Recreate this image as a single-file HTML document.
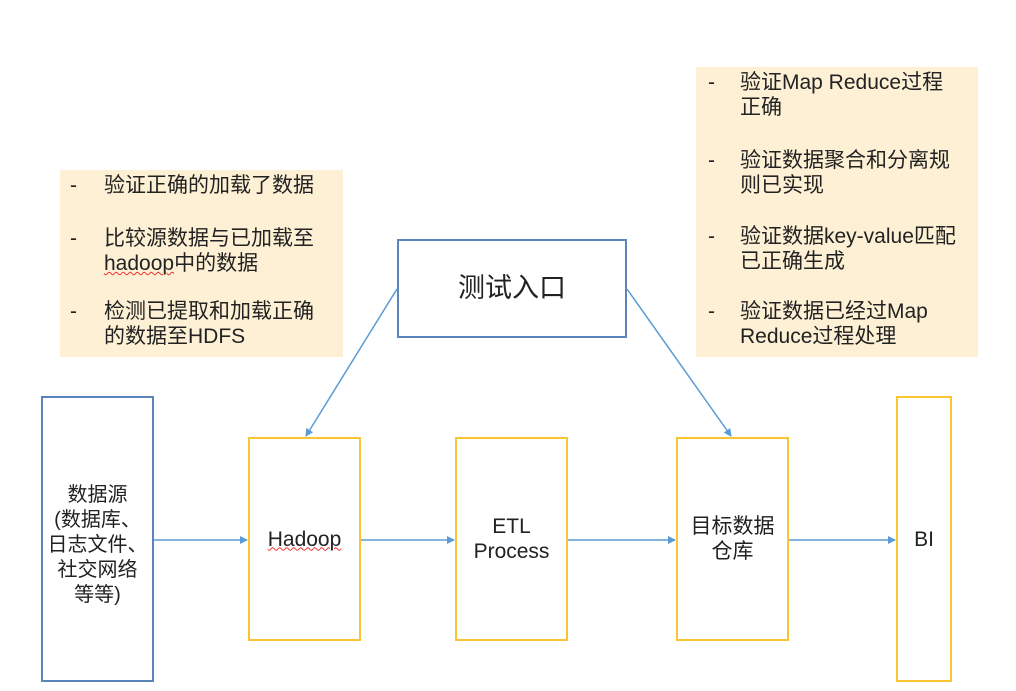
<!DOCTYPE html>
<html><head><meta charset="utf-8"><style>
body{margin:0;width:1016px;height:691px;background:#fff;position:relative;overflow:hidden;font-family:"Liberation Sans","Noto Sans CJK SC",sans-serif;color:#222}
.a{position:absolute}
.note{position:absolute;background:#fdf0d5}
.t{position:absolute;font-size:21px;line-height:25px;white-space:nowrap}
.box{position:absolute;box-sizing:border-box;display:flex;align-items:center;justify-content:center;text-align:center;font-size:21px;line-height:25px}
.y{border:2px solid #fbc531}
.b{border:2px solid #5b84b8}
</style></head><body>
<div class="note" style="left:60px;top:170px;width:283px;height:187px"></div>
<div class="note" style="left:696px;top:67px;width:282px;height:290px"></div>
<div class="t" style="left:70px;top:173px">-</div><div class="t" style="left:104px;top:173px">验证正确的加载了数据</div>
<div class="t" style="left:70px;top:226px">-</div><div class="t" style="left:104px;top:226px">比较源数据与已加载至<br><span style="text-decoration:underline wavy #e33;text-decoration-thickness:1px">hadoop</span>中的数据</div>
<div class="t" style="left:70px;top:299px">-</div><div class="t" style="left:104px;top:299px">检测已提取和加载正确<br>的数据至HDFS</div>
<div class="t" style="left:708px;top:70px">-</div><div class="t" style="left:740px;top:70px">验证Map Reduce过程<br>正确</div>
<div class="t" style="left:708px;top:148px">-</div><div class="t" style="left:740px;top:148px">验证数据聚合和分离规<br>则已实现</div>
<div class="t" style="left:708px;top:224px">-</div><div class="t" style="left:740px;top:224px">验证数据key-value匹配<br>已正确生成</div>
<div class="t" style="left:708px;top:299px">-</div><div class="t" style="left:740px;top:299px">验证数据已经过Map<br>Reduce过程处理</div>
<div class="box b" style="left:397px;top:239px;width:230px;height:99px;font-size:27px">测试入口</div>
<div class="box b" style="left:41px;top:396px;width:113px;height:286px;font-size:20px;line-height:25px;padding:12px 1px 0">数据源<br>(数据库、<br>日志文件、<br>社交网络<br>等等)</div>
<div class="box y" style="left:248px;top:437px;width:113px;height:204px"><span style="text-decoration:underline wavy #e33;text-decoration-thickness:1px">Hadoop</span></div>
<div class="box y" style="left:455px;top:437px;width:113px;height:204px">ETL<br>Process</div>
<div class="box y" style="left:676px;top:437px;width:113px;height:204px">目标数据<br>仓库</div>
<div class="box y" style="left:896px;top:396px;width:56px;height:286px">BI</div>
<svg class="a" style="left:0;top:0" width="1016" height="691">
<defs><marker id="m" markerWidth="8" markerHeight="8" refX="7" refY="4" orient="auto" markerUnits="userSpaceOnUse"><path d="M0,0L8,4L0,8z" fill="#5b9bd5"/></marker></defs>
<g stroke="#5b9bd5" stroke-width="1.5" fill="none" marker-end="url(#m)">
<line x1="154" y1="540" x2="247" y2="540"/>
<line x1="361" y1="540" x2="454" y2="540"/>
<line x1="568" y1="540" x2="675" y2="540"/>
<line x1="789" y1="540" x2="895" y2="540"/>
<line x1="397" y1="289" x2="306" y2="436"/>
<line x1="627" y1="289" x2="731" y2="436"/>
</g></svg>
</body></html>
